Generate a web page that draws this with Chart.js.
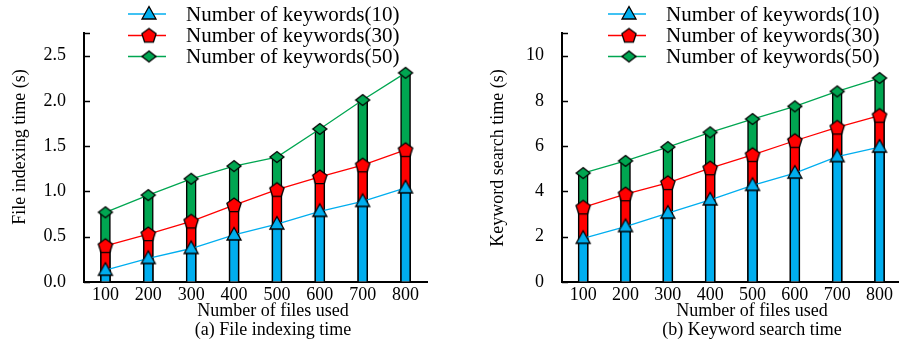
<!DOCTYPE html>
<html>
<head>
<meta charset="utf-8">
<script src="https://cdn.jsdelivr.net/npm/chart.js@4.4.1/dist/chart.umd.min.js"></script>
<style>
html, body { margin: 0; padding: 0; background: #fff; overflow: hidden; width: 899px; height: 343px; }
#left  { position: absolute; left: 0;     top: 0; width: 450px; height: 343px; }
#right { position: absolute; left: 450px; top: 0; width: 460px; height: 343px; }
</style>
</head>
<body>
<div id="left"><canvas id="chartA"></canvas></div>
<div id="right"><canvas id="chartB"></canvas></div>
<script>
const filesUsed = ['100', '200', '300', '400', '500', '600', '700', '800'];

// (a) File indexing time
const indexK10 = [0.13, 0.26, 0.37, 0.52, 0.64, 0.78, 0.89, 1.04];
const indexK30 = [0.40, 0.53, 0.67, 0.85, 1.02, 1.16, 1.29, 1.46];
const indexK50 = [0.77, 0.96, 1.14, 1.28, 1.38, 1.69, 2.01, 2.31];
const indexTicks = [0, 0.5, 1.0, 1.5, 2.0, 2.5];

// (b) Keyword search time
const searchK10 = [1.93, 2.45, 3.04, 3.63, 4.27, 4.81, 5.54, 5.96];
const searchK30 = [3.30, 3.88, 4.38, 5.03, 5.62, 6.24, 6.83, 7.35];
const searchK50 = [4.81, 5.35, 5.96, 6.61, 7.20, 7.76, 8.42, 9.01];
const searchTicks = [0, 2, 4, 6, 8, 10];

const seriesNames = ['Number of keywords(10)', 'Number of keywords(30)', 'Number of keywords(50)'];

const BLUE = '#00aeef', RED = '#ff0000', GREEN = '#00a651';
const FONT = "'Liberation Serif', 'Times New Roman', serif";

Chart.defaults.font.family = FONT;
Chart.defaults.font.size = 18;
Chart.defaults.color = '#000';

// marker images (pentagon / flat diamond aren't built in)
function markerCanvas(kind, fill) {
    const c = document.createElement('canvas');
    c.width = 20; c.height = 20;
    const g = c.getContext('2d');
    g.translate(10, 10);
    g.beginPath();
    if (kind === 'triangle') {
        g.moveTo(0, -7.5); g.lineTo(7, 5); g.lineTo(-7, 5);
    } else if (kind === 'pentagon') {
        for (let i = 0; i < 5; i++) {
            const a = -Math.PI / 2 + i * 2 * Math.PI / 5;
            g.lineTo(Math.cos(a) * 7.5, Math.sin(a) * 7.5 + 0.5);
        }
    } else {
        g.moveTo(0, -5.5); g.lineTo(7, 0); g.lineTo(0, 5.5); g.lineTo(-7, 0);
    }
    g.closePath();
    g.fillStyle = fill;
    g.fill();
    g.lineWidth = 1.3;
    g.strokeStyle = '#000';
    g.stroke();
    return c;
}

const markers = [markerCanvas('triangle', BLUE), markerCanvas('pentagon', RED), markerCanvas('diamond', GREEN)];
const colors = [BLUE, RED, GREEN];

// axis titles, caption, legend, inward tick marks
const decorPlugin = {
    id: 'decor',
    afterDraw(chart, args, o) {
        const { ctx, chartArea } = chart;
        const y = chart.scales.y;
        ctx.save();

        ctx.strokeStyle = '#000';
        ctx.lineWidth = 1.5;
        const marks = y.ticks.map(t => Math.round(y.getPixelForValue(t.value)) + 0.5);
        marks.push(chartArea.top + 0.5);
        marks.forEach(py => {
            ctx.beginPath();
            ctx.moveTo(chartArea.left, py);
            ctx.lineTo(chartArea.left + 6, py);
            ctx.stroke();
        });

        ctx.fillStyle = '#000';
        ctx.font = '18px ' + FONT;
        ctx.textAlign = 'center';
        ctx.textBaseline = 'middle';
        ctx.fillText('Number of files used', o.titleX, 311);
        ctx.fillText(o.caption, o.titleX, 330);

        ctx.save();
        ctx.translate(o.yTitleX, o.yTitleY);
        ctx.rotate(-Math.PI / 2);
        ctx.fillText(o.yTitle, 0, 0);
        ctx.restore();

        const rows = [14, 35.5, 56.5];
        ctx.font = '21px ' + FONT;
        ctx.textAlign = 'left';
        seriesNames.forEach((name, i) => {
            ctx.strokeStyle = colors[i];
            ctx.lineWidth = 1.3;
            ctx.beginPath();
            ctx.moveTo(o.legendX, rows[i]);
            ctx.lineTo(o.legendX + 38, rows[i]);
            ctx.stroke();
            ctx.drawImage(markers[i], o.legendX + 21 - 10, rows[i] - 10);
            ctx.fillText(name, o.legendX + 58, rows[i] + 1);
        });
        ctx.restore();
    }
};

function buildChart(id, k10, k30, k50, ticks, yMax, fmt, opts) {
    const series = [k10, k30, k50];
    const lines = series.map((d, i) => ({
        type: 'line',
        data: d,
        borderColor: colors[i],
        borderWidth: 1.3,
        pointStyle: markers[i],
        pointRadius: 8,
        fill: false,
        tension: 0,
        order: 0,
    }));
    const bars = series.map((d, i) => ({
        type: 'bar',
        data: d,
        grouped: false,
        barThickness: 10,
        backgroundColor: colors[i],
        borderColor: '#000',
        borderWidth: 1.5,
        order: i + 1,
    }));

    return new Chart(document.getElementById(id), {
        type: 'bar',
        data: { labels: filesUsed, datasets: [...lines, ...bars] },
        plugins: [decorPlugin],
        options: {
            responsive: true,
            maintainAspectRatio: false,
            animation: false,
            layout: { padding: { left: 0, top: 33, right: opts.padRight, bottom: 0 } },
            plugins: {
                legend: { display: false },
                tooltip: { enabled: false },
                decor: opts,
            },
            scales: {
                x: {
                    offset: true,
                    grid: { display: true, drawOnChartArea: false, drawTicks: false },
                    border: { display: true, color: '#000', width: 2 },
                    ticks: { padding: 2, maxRotation: 0, autoSkip: false },
                    afterFit: s => { s.height = 61; },
                },
                y: {
                    min: 0,
                    max: yMax,
                    grid: { display: true, drawOnChartArea: false, drawTicks: false },
                    border: { display: true, color: '#000', width: 2 },
                    ticks: { padding: 18, callback: v => fmt(v) },
                    afterBuildTicks: s => { s.ticks = ticks.map(v => ({ value: v })); },
                    afterFit: s => { s.width = opts.axisLeft; },
                },
            },
        },
    });
}

buildChart('chartA', indexK10, indexK30, indexK50, indexTicks, 2.75, v => v.toFixed(1), {
    padRight: 23, axisLeft: 84,
    titleX: 273, caption: '(a) File indexing time',
    yTitle: 'File indexing time (s)', yTitleX: 20, yTitleY: 147,
    legendX: 128,
});

buildChart('chartB', searchK10, searchK30, searchK50, searchTicks, 11, v => String(v), {
    padRight: 5, axisLeft: 112,
    titleX: 302, caption: '(b) Keyword search time',
    yTitle: 'Keyword search time (s)', yTitleX: 48, yTitleY: 158,
    legendX: 158,
});
</script>
</body>
</html>
